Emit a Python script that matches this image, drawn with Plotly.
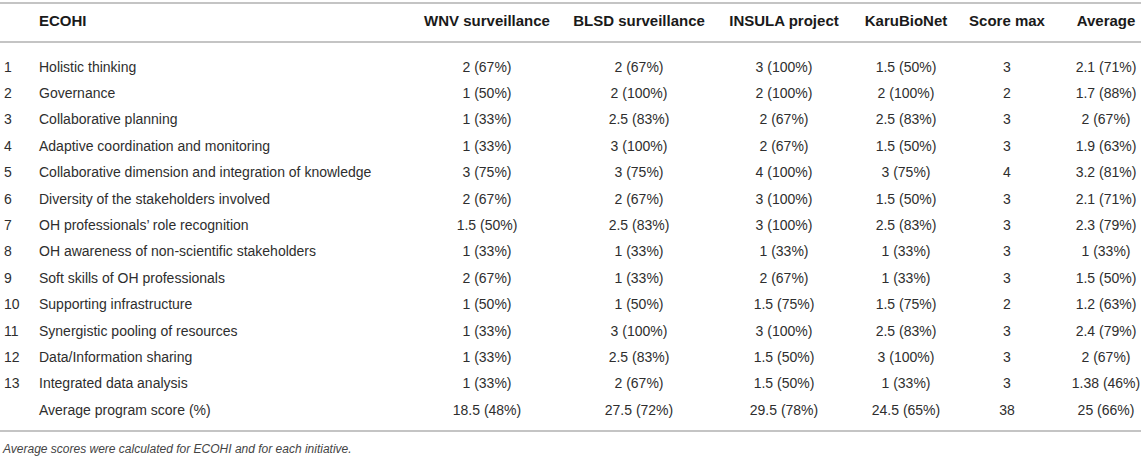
import plotly.graph_objects as go

# ------------------ data ------------------
row_no = ["1", "2", "3", "4", "5", "6", "7", "8", "9", "10", "11", "12", "13", ""]
ecohi = [
    "Holistic thinking",
    "Governance",
    "Collaborative planning",
    "Adaptive coordination and monitoring",
    "Collaborative dimension and integration of knowledge",
    "Diversity of the stakeholders involved",
    "OH professionals\u2019 role recognition",
    "OH awareness of non-scientific stakeholders",
    "Soft skills of OH professionals",
    "Supporting infrastructure",
    "Synergistic pooling of resources",
    "Data/Information sharing",
    "Integrated data analysis",
    "Average program score (%)",
]
columns = ["WNV surveillance", "BLSD surveillance", "INSULA project",
           "KaruBioNet", "Score max", "Average"]

wnv_score = [2, 1, 1, 1, 3, 2, 1.5, 1, 2, 1, 1, 1, 1, 18.5]
wnv_pct = [67, 50, 33, 33, 75, 67, 50, 33, 67, 50, 33, 33, 33, 48]
blsd_score = [2, 2, 2.5, 3, 3, 2, 2.5, 1, 1, 1, 3, 2.5, 2, 27.5]
blsd_pct = [67, 100, 83, 100, 75, 67, 83, 33, 33, 50, 100, 83, 67, 72]
insula_score = [3, 2, 2, 2, 4, 3, 3, 1, 2, 1.5, 3, 1.5, 1.5, 29.5]
insula_pct = [100, 100, 67, 67, 100, 100, 100, 33, 67, 75, 100, 50, 50, 78]
karu_score = [1.5, 2, 2.5, 1.5, 3, 1.5, 2.5, 1, 1, 1.5, 2.5, 3, 1, 24.5]
karu_pct = [50, 100, 83, 50, 75, 50, 83, 33, 33, 75, 83, 100, 33, 65]
score_max = [3, 2, 3, 3, 4, 3, 3, 3, 3, 2, 3, 3, 3, 38]
avg_score = [2.1, 1.7, 2, 1.9, 3.2, 2.1, 2.3, 1, 1.5, 1.2, 2.4, 2, 1.38, 25]
avg_pct = [71, 88, 67, 63, 81, 71, 79, 33, 50, 63, 79, 67, 46, 66]

footnote = "Average scores were calculated for ECOHI and for each initiative."


def fmt(scores, pcts):
    return [f"{s:g} ({p}%)" for s, p in zip(scores, pcts)]


cells = [
    fmt(wnv_score, wnv_pct),
    fmt(blsd_score, blsd_pct),
    fmt(insula_score, insula_pct),
    fmt(karu_score, karu_pct),
    [f"{s:g}" for s in score_max],
    fmt(avg_score, avg_pct),
]

# ------------------ layout constants ------------------
W, H = 1144, 458
col_x = [487, 639, 784, 906, 1007, 1106]
rows_y = list(range(len(ecohi)))
header_y = -1.74
font = "Liberation Sans, Arial, sans-serif"
txt_col = "#2e2e2e"
line_col = "#c4c4c4"

fig = go.Figure()

# row numbers and ECOHI labels (left aligned)
fig.add_trace(go.Scatter(x=[4] * len(row_no), y=rows_y, text=row_no, mode="text",
                         textposition="middle right", hoverinfo="skip",
                         textfont=dict(family=font, size=14, color=txt_col)))
fig.add_trace(go.Scatter(x=[39] * len(ecohi), y=rows_y, text=ecohi, mode="text",
                         textposition="middle right", hoverinfo="skip",
                         textfont=dict(family=font, size=14, color=txt_col)))

# value columns (centered)
for cx, vals in zip(col_x, cells):
    fig.add_trace(go.Scatter(x=[cx] * len(vals), y=rows_y, text=vals, mode="text",
                             textposition="middle center", hoverinfo="skip",
                             textfont=dict(family=font, size=14, color=txt_col)))

# header
fig.add_trace(go.Scatter(x=[39] + col_x, y=[header_y] * (len(columns) + 1),
                         text=["<b>ECOHI</b>"] + [f"<b>{c}</b>" for c in columns],
                         mode="text",
                         textposition=["middle right"] + ["middle center"] * len(columns),
                         hoverinfo="skip",
                         textfont=dict(family=font, size=15, color="#1a1a1a")))

# horizontal rules
for yy in [-2.46, -0.985, 13.75]:
    fig.add_shape(type="line", x0=0, x1=1141, y0=yy, y1=yy, xref="x", yref="y",
                  line=dict(color=line_col, width=2))

fig.add_annotation(x=0, y=14.43, xref="x", yref="y", text=f"<i>{footnote}</i>",
                   showarrow=False, xanchor="left", yanchor="middle",
                   font=dict(family=font, size=12, color="#444444"))

fig.update_layout(
    width=W, height=H,
    margin=dict(l=0, r=0, t=0, b=0),
    paper_bgcolor="white", plot_bgcolor="white",
    showlegend=False,
    xaxis=dict(range=[0, W], visible=False, fixedrange=True),
    yaxis=dict(range=[(H - 68) / 26.4, -68 / 26.4], visible=False, fixedrange=True),
)

fig.write_html("out.html", config={"displayModeBar": False},
               post_script="document.body.style.margin='0px';")
